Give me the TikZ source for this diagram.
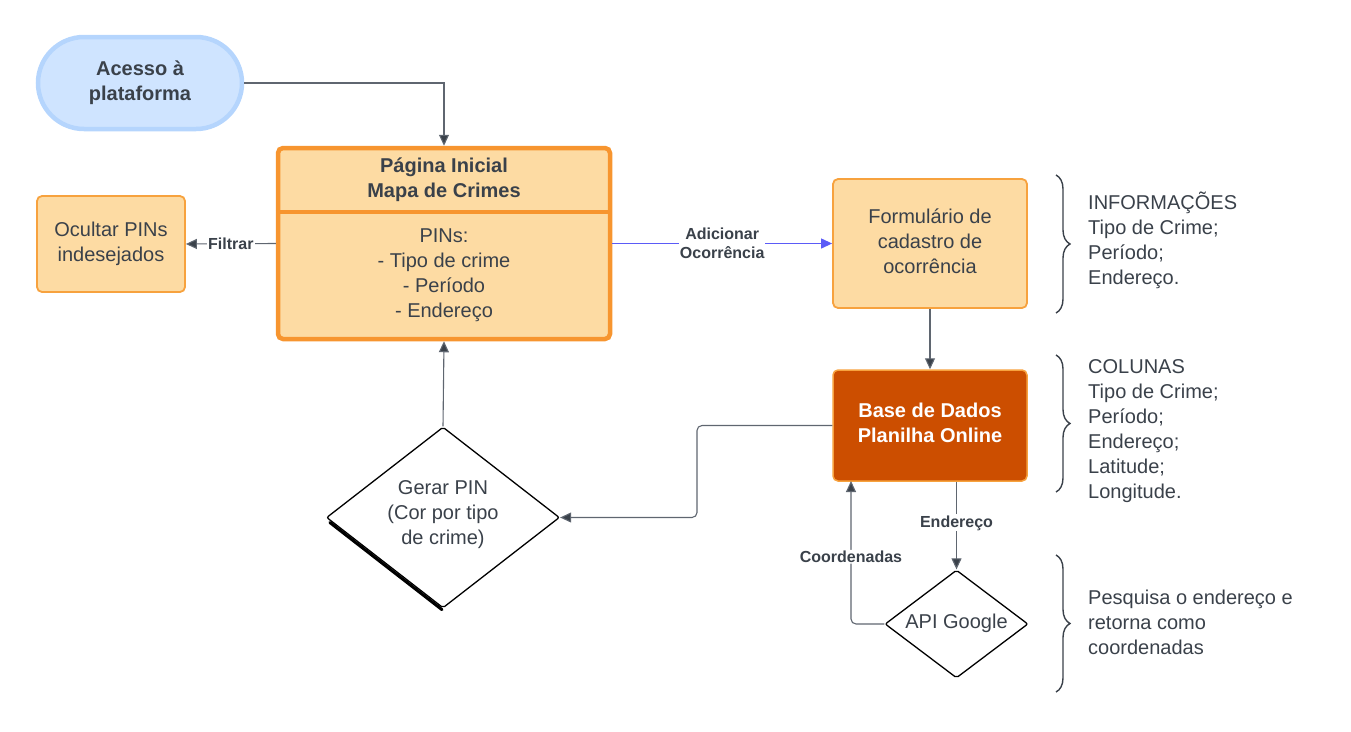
\documentclass[tikz,border=0pt]{standalone}
\usepackage{fontspec}
\setmainfont{Liberation Sans}
\usetikzlibrary{arrows.meta,shapes.geometric,decorations.pathreplacing,calc}
\definecolor{txt}{HTML}{3A414A}
\definecolor{lineg}{HTML}{5F6670}
\definecolor{lorange}{HTML}{FDDBA3}
\definecolor{orangeB}{HTML}{F7952F}
\definecolor{orangeb}{HTML}{F7A23E}
\definecolor{dbase}{HTML}{CC4E00}
\definecolor{lblue}{HTML}{CFE4FF}
\definecolor{bblue}{HTML}{B5D5FD}
\definecolor{arrblue}{HTML}{5B5BF7}
\tikzset{
  main text/.style={font=\fontsize{20}{25}\selectfont, text=txt, align=center},
  boxlight/.style={draw=orangeb, line width=1.8pt, fill=lorange, rounded corners=5pt, inner sep=0pt},
  conn/.style={draw=lineg, line width=1.1pt, -{Triangle[length=11pt,width=10pt,fill=txt]}},
  lbl/.style={font=\bfseries\fontsize{16}{19}\selectfont, text=txt, fill=white, inner sep=1pt, align=center},
  side/.style={font=\fontsize{20}{25}\selectfont, text=txt, align=left, anchor=west, inner sep=0pt},
  brc/.style={draw=txt, line width=1.4pt, decorate, decoration={brace, amplitude=14pt}},
  dia/.style={diamond, draw=black, line width=1.3pt, fill=white, inner sep=0pt, rounded corners=2pt},
}
\begin{document}
\begin{tikzpicture}[x=1pt,y=-1pt]
\useasboundingbox (0,0) rectangle (1351,731);
% nodes
\node[main text, font=\bfseries\fontsize{20}{25}\selectfont, draw=bblue, line width=4.5pt, fill=lblue,
      rounded corners=46pt, minimum width=204pt, minimum height=92pt, inner sep=0pt] (acesso) at (140,83) {Acesso à\\plataforma};
\node[draw=orangeB, line width=4.5pt, fill=lorange, rounded corners=5pt, minimum width=332pt, minimum height=191pt, inner sep=0pt] (main) at (444,243.5) {};
\draw[orangeB, line width=4.5pt] (main.west |- 0,212) -- (main.east |- 0,212);
\node[main text, font=\bfseries\fontsize{20}{25}\selectfont] (mainhead) at (444,180) {Página Inicial\\Mapa de Crimes};
\node[main text] (mainbody) at (444,275) {PINs:\\- Tipo de crime\\- Período\\- Endereço};
\node[boxlight, main text, minimum width=148pt, minimum height=96pt] (ocultar) at (111,244) {Ocultar PINs\\indesejados};
\node[boxlight, main text, minimum width=194pt, minimum height=129pt] (form) at (930,243.5) {};
\node[main text] (formtext) at (930,241.5) {Formulário de\\cadastro de\\ocorrência};
\node[draw=orangeb, line width=1.5pt, fill=dbase, rounded corners=5pt, minimum width=194pt, minimum height=111pt, inner sep=0pt] (base) at (930,425.5) {};
\node[font=\bfseries\fontsize{20}{25}\selectfont, text=white, align=center] (basetext) at (930,423) {Base de Dados\\Planilha Online};
\node[dia, minimum width=233pt, minimum height=181pt] (gerar) at (443,517.5) {};
\draw[black, line width=3pt, line cap=round] ($(gerar.west)+(4,5)$) -- ($(gerar.south)+(-1,1)$);
\node[main text] (gerartext) at (443,515) {Gerar PIN\\(Cor por tipo\\de crime)};
\node[dia, minimum width=143pt, minimum height=108pt] (api) at (956.5,624) {};
\node[main text] (apitext) at (956.5,623.5) {API Google};
% connectors
\draw[conn] (acesso.east) -| (main.north);
\draw[conn] (main.west) -- node[lbl] (lfiltrar) {Filtrar} (ocultar.east);
\draw[draw=arrblue, line width=1.1pt, -{Triangle[length=11pt,width=10pt,fill=arrblue]}] (main.east) -- node[lbl] (ladic) {Adicionar\\Ocorrência} (form.west);
\draw[conn] (form.south) -- (base.north);
\coordinate (c1) at (697,425.5);
\draw[conn, rounded corners=5pt] (base.west) -- (c1) |- (gerar.east);
\draw[conn] (gerar.north) -- (main.south);
\draw[conn] (api.north |- base.south) -- node[lbl, pos=0.47] (lend) {Endereço} (api.north);
\coordinate (c2) at (851,481);
\draw[conn, rounded corners=5pt] (api.west) -| node[lbl, pos=0.735] (lcoord) {Coordenadas} (c2);
% braces
\coordinate (b1a) at (1056,175); \coordinate (b1b) at (1056,313);
\draw[brc] (b1a) -- (b1b);
\coordinate (b2a) at (1056,355); \coordinate (b2b) at (1056,492);
\draw[brc] (b2a) -- (b2b);
\coordinate (b3a) at (1056,555); \coordinate (b3b) at (1056,692);
\draw[brc] (b3a) -- (b3b);
\node[side] (t1) at (1088,240.5) {INFORMAÇÕES\\Tipo de Crime;\\Período;\\Endereço.};
\node[side] (t2) at (1088,431) {COLUNAS\\Tipo de Crime;\\Período;\\Endereço;\\Latitude;\\Longitude.};
\node[side] (t3) at (1088,622) {Pesquisa o endereço e\\retorna como\\coordenadas};
\end{tikzpicture}
\end{document}
